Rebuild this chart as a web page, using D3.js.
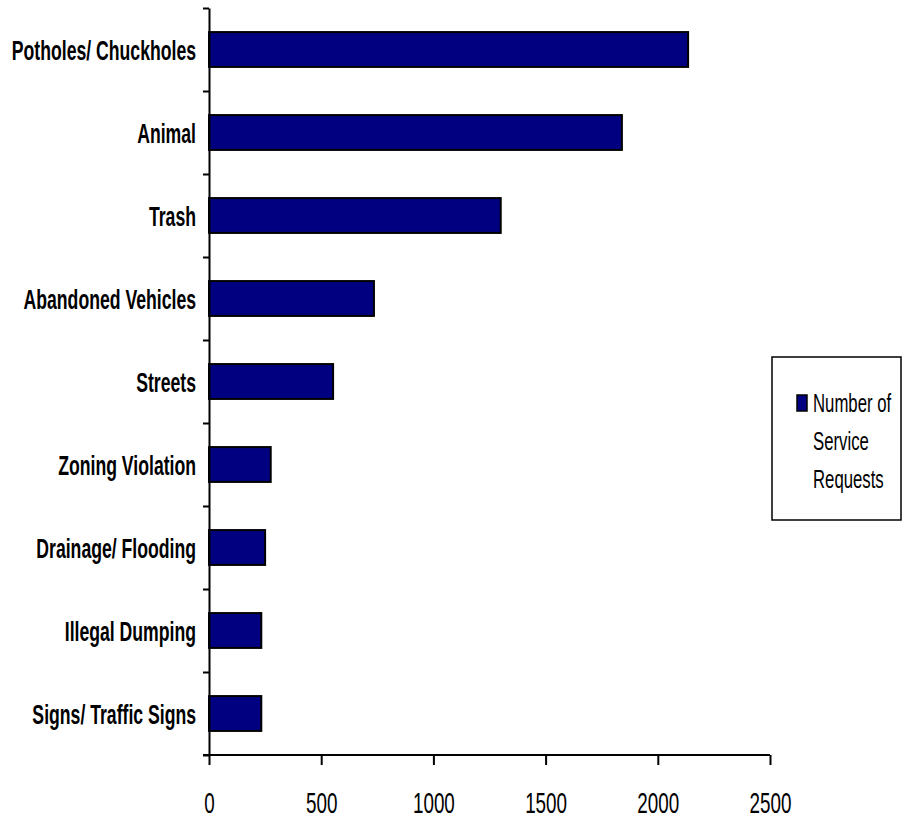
<!DOCTYPE html>
<html>
<head>
<meta charset="utf-8">
<script src="https://cdn.jsdelivr.net/npm/d3@7"></script>
<style>
  html, body { margin: 0; padding: 0; background: #fff; }
  svg { display: block; }
</style>
</head>
<body>
<script>
const categories = [
  "Potholes/ Chuckholes",
  "Animal",
  "Trash",
  "Abandoned Vehicles",
  "Streets",
  "Zoning Violation",
  "Drainage/ Flooding",
  "Illegal Dumping",
  "Signs/ Traffic Signs"
];
const values = [2135, 1840, 1300, 735, 553, 275, 250, 233, 233];
const xTicks = [0, 500, 1000, 1500, 2000, 2500];
const seriesName = ["Number of", "Service", "Requests"];

const W = 904, H = 824;
const mLeft = 209, mRight = 770, mTop = 8, mBottom = 755;

const svg = d3.select("body").append("svg").attr("width", W).attr("height", H);
svg.append("rect").attr("width", W).attr("height", H).attr("fill", "#fff");

const x = d3.scaleLinear().domain([0, 2500]).range([mLeft, mRight]);
const y = d3.scaleBand().domain(categories).range([mTop, mBottom]).padding(0);
const yIdx = d3.scaleLinear().domain([0, categories.length]).range([mTop, mBottom]);

const barFrac = 0.42;
const bh = y.bandwidth() * barFrac;

// bars
svg.append("g").selectAll("rect").data(categories).join("rect")
  .attr("x", x(0))
  .attr("y", (d) => y(d) + (y.bandwidth() - bh) / 2)
  .attr("width", (d, i) => x(values[i]) - x(0))
  .attr("height", bh)
  .attr("fill", "#000080")
  .attr("stroke", "#000")
  .attr("stroke-width", 2);

// y axis: line + boundary ticks
const yAxis = svg.append("g").attr("transform", `translate(${mLeft},0)`)
  .call(d3.axisLeft(yIdx).tickValues(d3.range(0, categories.length + 1)).tickSize(6).tickSizeOuter(0).tickFormat(""));
yAxis.select(".domain").attr("stroke", "#000").attr("stroke-width", 2);
yAxis.selectAll(".tick line").attr("stroke", "#000").attr("stroke-width", 2);

// category labels
const yLab = svg.append("g").attr("transform", `translate(${mLeft},0)`)
  .call(d3.axisLeft(y).tickSize(0).tickPadding(13));
yLab.select(".domain").remove();
yLab.selectAll(".tick text")
  .attr("x", 0)
  .attr("dy", "0.37em")
  .attr("transform", "translate(-13,0) scale(0.63,1)")
  .attr("fill", "#000")
  .style("font-family", "'Liberation Sans', Arial, sans-serif")
  .style("font-weight", "bold")
  .style("font-size", "28px");

// x axis
const xAxis = svg.append("g").attr("transform", `translate(0,${mBottom})`)
  .call(d3.axisBottom(x).tickValues(xTicks).tickSize(10).tickSizeOuter(0).tickFormat(d3.format("d")));
xAxis.select(".domain").attr("stroke", "#000").attr("stroke-width", 2)
  .attr("d", `M${mLeft - 6},0H${mRight}`);
xAxis.selectAll(".tick line").attr("stroke", "#000").attr("stroke-width", 2);
xAxis.selectAll(".tick text")
  .attr("y", 58)
  .attr("dy", 0)
  .attr("transform", "scale(0.65,1)")
  .attr("fill", "#000")
  .style("font-family", "'Liberation Sans', Arial, sans-serif")
  .style("font-size", "29px");

// legend
const lg = svg.append("g");
lg.append("rect").attr("x", 772).attr("y", 357).attr("width", 129).attr("height", 163)
  .attr("fill", "#fff").attr("stroke", "#000").attr("stroke-width", 1.5);
lg.append("rect").attr("x", 797).attr("y", 395).attr("width", 10).attr("height", 16)
  .attr("fill", "#000080").attr("stroke", "#000").attr("stroke-width", 1.5);
lg.selectAll("text.leg").data(seriesName).join("text")
  .attr("class", "leg")
  .attr("transform", (d, i) => `translate(813,${412 + i * 38}) scale(0.67,1)`)
  .attr("fill", "#000")
  .style("font-family", "'Liberation Sans', Arial, sans-serif")
  .style("font-size", "25px")
  .text((d) => d);
</script>
</body>
</html>
